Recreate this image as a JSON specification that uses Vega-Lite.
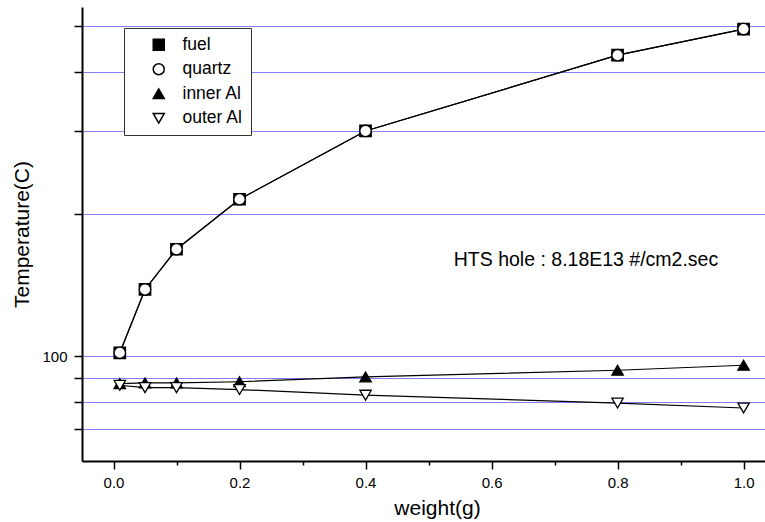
{
  "$schema": "https://vega.github.io/schema/vega-lite/v6.json",
  "width": 683,
  "height": 454,
  "autosize": {"type": "none"},
  "padding": {"left": 82, "top": 7, "right": 0, "bottom": 61},
  "background": "white",
  "config": {"font": "Liberation Sans", "view": {"stroke": null}},
  "datasets": {
    "temps": [
      {"series": "fuel", "weight": 0.01, "temperature": 101.7},
      {"series": "fuel", "weight": 0.05, "temperature": 138.5},
      {"series": "fuel", "weight": 0.1, "temperature": 168.5},
      {"series": "fuel", "weight": 0.2, "temperature": 215},
      {"series": "fuel", "weight": 0.4, "temperature": 300},
      {"series": "fuel", "weight": 0.8, "temperature": 434},
      {"series": "fuel", "weight": 1.0, "temperature": 493},
      {"series": "quartz", "weight": 0.01, "temperature": 101.7},
      {"series": "quartz", "weight": 0.05, "temperature": 138.5},
      {"series": "quartz", "weight": 0.1, "temperature": 168.5},
      {"series": "quartz", "weight": 0.2, "temperature": 215},
      {"series": "quartz", "weight": 0.4, "temperature": 300},
      {"series": "quartz", "weight": 0.8, "temperature": 434},
      {"series": "quartz", "weight": 1.0, "temperature": 493},
      {"series": "inner Al", "weight": 0.01, "temperature": 87.5},
      {"series": "inner Al", "weight": 0.05, "temperature": 87.8},
      {"series": "inner Al", "weight": 0.1, "temperature": 87.8},
      {"series": "inner Al", "weight": 0.2, "temperature": 88.3},
      {"series": "inner Al", "weight": 0.4, "temperature": 90.4},
      {"series": "inner Al", "weight": 0.8, "temperature": 93.4},
      {"series": "inner Al", "weight": 1.0, "temperature": 95.7},
      {"series": "outer Al", "weight": 0.01, "temperature": 86.8},
      {"series": "outer Al", "weight": 0.05, "temperature": 85.8},
      {"series": "outer Al", "weight": 0.1, "temperature": 85.8},
      {"series": "outer Al", "weight": 0.2, "temperature": 85.0},
      {"series": "outer Al", "weight": 0.4, "temperature": 82.7},
      {"series": "outer Al", "weight": 0.8, "temperature": 79.6},
      {"series": "outer Al", "weight": 1.0, "temperature": 77.7}
    ],
    "note": [
      {"weight": 0.54, "temperature": 160, "label": "HTS hole : 8.18E13 #/cm2.sec"}
    ]
  },
  "layer": [
    {
      "data": {"name": "temps"},
      "mark": {"type": "line", "color": "black", "strokeWidth": 1.2},
      "encoding": {
        "x": {
          "field": "weight", "type": "quantitative",
          "scale": {"domain": [-0.05, 1.034], "nice": false, "zero": false},
          "axis": {
            "orient": "bottom", "values": [0, 0.1, 0.2, 0.3, 0.4, 0.5, 0.6, 0.7, 0.8, 0.9, 1.0],
            "labelExpr": "round(datum.value * 10) % 2 === 0 ? format(datum.value, '.1f') : ''",
            "title": "weight(g)", "grid": false,
            "tickSize": {"condition": {"test": "round(datum.value * 10) % 2 === 0", "value": 8}, "value": 4},
            "tickWidth": 1.5, "tickColor": "black",
            "domainColor": "black", "domainWidth": 2, "labelFontSize": 15, "labelColor": "black",
            "labelPadding": 6, "labelFlush": false, "labelOverlap": false, "titleFontSize": 21, "titleFontWeight": "normal",
            "titleColor": "black", "titlePadding": 7, "titleX": 355
          }
        },
        "y": {
          "field": "temperature", "type": "quantitative",
          "scale": {"type": "log", "domain": [60, 549], "nice": false},
          "axis": {
            "values": [70, 80, 90, 100, 200, 300, 400, 500],
            "labelExpr": "datum.value == 100 ? '100' : ''",
            "title": "Temperature(C)", "grid": true, "gridColor": "#0000ff", "gridDash": [1, 1], "gridWidth": 1,
            "tickSize": 8, "tickWidth": 1.5, "tickColor": "black", "domainColor": "black", "domainWidth": 2,
            "labelFontSize": 15, "labelColor": "black", "labelPadding": 7, "labelOverlap": false,
            "titleFontSize": 21, "titleFontWeight": "normal", "titleColor": "black", "titlePadding": 9
          }
        },
        "detail": {"field": "series", "type": "nominal"}
      }
    },
    {
      "data": {"name": "temps"},
      "mark": {"type": "point", "filled": true, "stroke": "black", "strokeWidth": 1.3, "opacity": 1, "size": 130},
      "encoding": {
        "x": {"field": "weight", "type": "quantitative"},
        "y": {"field": "temperature", "type": "quantitative"},
        "shape": {
          "field": "series", "type": "nominal",
          "scale": {"domain": ["fuel", "quartz", "inner Al", "outer Al"], "range": ["square", "circle", "triangle-up", "triangle-down"]},
          "legend": {
            "orient": "none", "legendX": 42, "legendY": 21, "title": null,
            "padding": 8, "strokeColor": "#333333", "fillColor": "white",
            "labelFontSize": 17.5, "labelColor": "black",
            "symbolSize": 121, "rowPadding": 5.5, "symbolOffset": 18, "labelOffset": 15
          }
        },
        "fill": {
          "field": "series", "type": "nominal",
          "scale": {"domain": ["fuel", "quartz", "inner Al", "outer Al"], "range": ["black", "white", "black", "white"]},
          "legend": null
        }
      }
    },
    {
      "data": {"name": "note"},
      "mark": {"type": "text", "align": "left", "baseline": "middle", "fontSize": 19.5, "font": "Liberation Sans", "color": "black"},
      "encoding": {
        "x": {"field": "weight", "type": "quantitative"},
        "y": {"field": "temperature", "type": "quantitative"},
        "text": {"field": "label", "type": "nominal"}
      }
    },
    {
      "mark": {"type": "rule", "color": "#6e6e6e", "strokeWidth": 2},
      "encoding": {"y": {"datum": 549}}
    }
  ]
}
